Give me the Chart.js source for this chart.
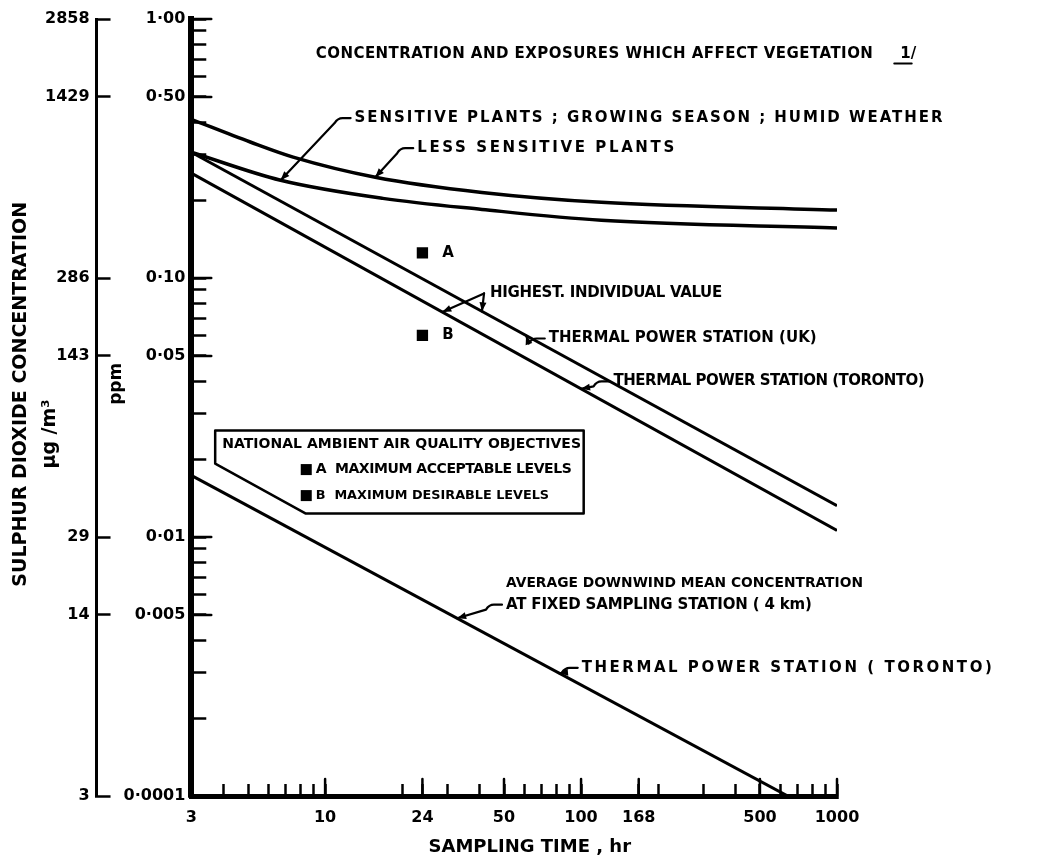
<!DOCTYPE html>
<html><head><meta charset="utf-8">
<script src="https://cdn.jsdelivr.net/npm/chart.js@4"></script>
<style>html,body{margin:0;padding:0;background:#fff}#wrap{width:1048px;height:858px}</style>
</head><body><div id="wrap"><canvas id="c" width="1048" height="858"></canvas></div>
<script>
// ---------------- data ----------------
const lessSensitiveHours = [3, 5.1, 7.5, 15.7, 41, 120, 1000];
const lessSensitivePpm   = [0.41, 0.335, 0.293, 0.245, 0.214, 0.196, 0.183];
const sensitiveHours = [3, 6.7, 16.8, 41, 120, 1000];
const sensitivePpm   = [0.306, 0.2385, 0.203, 0.184, 0.167, 0.156];
const ukHours = [3, 1000];
const ukPpm   = [0.306, 0.0132];
const torontoHighHours = [3, 1000];
const torontoHighPpm   = [0.254, 0.0106];
const torontoMeanHours = [3, 1000];
const torontoMeanPpm   = [0.0173, 0.00079];
const objectiveHours  = [24, 24];
const objectivePpm    = [0.125, 0.06];
const objectiveLabels = ['A', 'B'];

const xLabelValues = [3, 10, 24, 50, 100, 168, 500, 1000];
const xLabelTexts  = ['3', '10', '24', '50', '100', '168', '500', '1000'];
const xMinorValues = [4, 5, 6, 7, 8, 9, 20, 30, 40, 60, 70, 80, 90, 200, 300, 400, 600, 700, 800, 900];
const ppmLabelValues = [1, 0.5, 0.1, 0.05, 0.01, 0.005, 0.001];
const ppmLabelTexts  = ['1·00', '0·50', '0·10', '0·05', '0·01', '0·005', '0·0001'];
const ppmMinorValues = [0.9, 0.8, 0.7, 0.6, 0.4, 0.3, 0.2, 0.09, 0.08, 0.07, 0.06, 0.04, 0.03, 0.02,
                        0.009, 0.008, 0.007, 0.006, 0.004, 0.003, 0.002];
const ugLabelTexts = ['2858', '1429', '286', '143', '29', '14', '3'];
const UG_PER_PPM = 2858;

// ---------------- helpers ----------------
const pts = (xs, ys) => xs.map((v, i) => ({x: v, y: ys[i]}));
const series = {
  less: [lessSensitiveHours, lessSensitivePpm],
  sensitive: [sensitiveHours, sensitivePpm],
  uk: [ukHours, ukPpm],
  torontoHigh: [torontoHighHours, torontoHighPpm],
  torontoMean: [torontoMeanHours, torontoMeanPpm]
};
function seriesAt(name, h) {
  const [xs, ys] = series[name];
  for (let i = 0; i < xs.length - 1; i++) {
    if (h >= xs[i] && h <= xs[i + 1]) {
      const t = (Math.log10(h) - Math.log10(xs[i])) / (Math.log10(xs[i + 1]) - Math.log10(xs[i]));
      return Math.pow(10, Math.log10(ys[i]) + t * (Math.log10(ys[i + 1]) - Math.log10(ys[i])));
    }
  }
  return ys[ys.length - 1];
}
function labelFor(v, vals, texts) {
  const i = vals.findIndex(a => Math.abs(Math.log10(a) - Math.log10(v)) < 1e-6);
  return i >= 0 ? texts[i] : '';
}
const NB = '\u00a0';
const TXT = '#000';
const FONT = 'DejaVu Sans';

// ---------------- annotations (positions in data units) ----------------
const notes = [
  {text: 'CONCENTRATION AND EXPOSURES WHICH AFFECT VEGETATION', x: 9.19, y: 0.73, w: 557},
  {text: '1/', x: 1767, y: 0.73, underline: true},
  {text: 'SENSITIVE PLANTS ; GROWING SEASON ; HUMID WEATHER', x: 13.04, y: 0.4143, w: 588, leader: [['sensitive', 6.7]]},
  {text: 'LESS SENSITIVE PLANTS', x: 22.9, y: 0.3172, w: 257, leader: [['less', 15.7]]},
  {text: 'HIGHEST. INDIVIDUAL VALUE', x: 44.1, y: 0.0872, w: 232, fork: [['uk', 41], ['torontoHigh', 28.7]]},
  {text: 'A', x: 28.7, y: 0.125},
  {text: 'B', x: 28.7, y: 0.06},
  {text: 'THERMAL POWER STATION (UK)', x: 74.8, y: 0.0584, w: 268, leader: [['uk', 61]]},
  {text: 'THERMAL POWER STATION (TORONTO)', x: 134, y: 0.0399, w: 311, leader: [['torontoHigh', 100]]},
  {text: 'AVERAGE DOWNWIND MEAN CONCENTRATION', x: 50.9, y: 0.0066, w: 358},
  {text: 'AT FIXED SAMPLING STATION ( 4 km)', x: 50.9, y: 0.00548, w: 306, leader: [['torontoMean', 32.8]]},
  {text: 'THERMAL POWER STATION ( TORONTO)', x: 100.6, y: 0.003126, w: 410, leader: [['torontoMean', 82]]},
  // legend box texts
  {text: 'NATIONAL AMBIENT AIR QUALITY OBJECTIVES', x: 3.96, y: 0.02275, w: 359, size: 14},
  {text: 'A  MAXIMUM ACCEPTABLE LEVELS', x: 9.19, y: 0.01821, w: 256, size: 14, square: 8.44},
  {text: 'B  MAXIMUM DESIRABLE LEVELS', x: 9.19, y: 0.01445, w: 234, size: 14, square: 8.44}
];
const legendBox = [[3.72, 0.02577], [102.4, 0.02577], [102.4, 0.01231], [8.41, 0.01231], [3.72, 0.01921]];

function arrowHead(ctx, fx, fy, tx, ty) {
  const a = Math.atan2(ty - fy, tx - fx), L = 9, W = 3.5;
  ctx.beginPath();
  ctx.moveTo(tx, ty);
  ctx.lineTo(tx - L * Math.cos(a) + W * Math.sin(a), ty - L * Math.sin(a) - W * Math.cos(a));
  ctx.lineTo(tx - L * Math.cos(a) - W * Math.sin(a), ty - L * Math.sin(a) + W * Math.cos(a));
  ctx.closePath();
  ctx.fill();
}

const notesPlugin = {
  id: 'notes',
  afterDraw(chart) {
    const {ctx} = chart;
    const xs = chart.scales.x, ys = chart.scales.y;
    const px = v => xs.getPixelForValue(v), py = v => ys.getPixelForValue(v);
    ctx.save();
    ctx.fillStyle = TXT; ctx.strokeStyle = TXT;
    ctx.lineCap = 'round'; ctx.lineJoin = 'round';

    // longer major tick marks
    ctx.lineWidth = 2.5;
    xLabelValues.slice(1).forEach(v => {
      ctx.beginPath(); ctx.moveTo(px(v), xs.top); ctx.lineTo(px(v), xs.top - 17); ctx.stroke();
    });
    ppmLabelValues.slice(0, -1).forEach(v => {
      ctx.beginPath(); ctx.moveTo(ys.right, py(v)); ctx.lineTo(ys.right + 20, py(v)); ctx.stroke();
    });

    // legend box
    ctx.lineWidth = 2.5;
    ctx.beginPath();
    legendBox.forEach(([a, b], i) => i ? ctx.lineTo(px(a), py(b)) : ctx.moveTo(px(a), py(b)));
    ctx.closePath();
    ctx.stroke();

    notes.forEach(n => {
      const size = n.size || 15;
      ctx.font = 'bold ' + size + 'px "' + FONT + '"';
      ctx.letterSpacing = '0px';
      let ls = 0;
      if (n.w) {
        const w0 = ctx.measureText(n.text).width;
        ls = (n.w - w0) / (n.text.length - 1);
        if (ls < -0.8) {
          const s2 = size * n.w / w0;
          ctx.font = 'bold ' + s2.toFixed(1) + 'px "' + FONT + '"';
          ls = 0;
        }
      }
      ctx.letterSpacing = ls.toFixed(2) + 'px';
      ctx.textAlign = 'left'; ctx.textBaseline = 'middle';
      const X = px(n.x), Y = py(n.y);
      ctx.fillText(n.text, X, Y);
      if (n.underline) {
        const w1 = ctx.measureText('1').width;
        ctx.lineWidth = 2;
        ctx.beginPath(); ctx.moveTo(X - 6, Y + 9); ctx.lineTo(X + w1 + 1, Y + 9); ctx.stroke();
      }
      if (n.square) {
        const S = 11, cx = px(n.square);
        ctx.fillRect(cx - S / 2, Y - S / 2, S, S);
      }
      ctx.lineWidth = 2.2;
      if (n.leader) {
        n.leader.forEach(([name, h]) => {
          const tx = px(h), ty = py(seriesAt(name, h));
          const sx = X - 4, sy = Y;
          ctx.beginPath();
          ctx.moveTo(sx, sy);
          ctx.lineTo(sx - 8, sy);
          ctx.quadraticCurveTo(sx - 13, sy, sx - 16, sy + 5);
          ctx.lineTo(tx, ty);
          ctx.stroke();
          arrowHead(ctx, sx - 16, sy + 5, tx, ty);
        });
      }
      if (n.fork) {
        n.fork.forEach(([name, h]) => {
          const tx = px(h), ty = py(seriesAt(name, h));
          const sx = X - 6, sy = Y;
          ctx.beginPath(); ctx.moveTo(sx, sy); ctx.lineTo(tx, ty); ctx.stroke();
          arrowHead(ctx, sx, sy, tx, ty);
        });
      }
    });
    ctx.letterSpacing = '0px';
    ctx.restore();
  }
};

const lineStyle = {showLine: true, borderColor: '#000', backgroundColor: '#000', borderWidth: 3.5,
                   pointRadius: 0, fill: false, cubicInterpolationMode: 'monotone'};

const tickFont = {family: FONT, weight: 'bold', size: 16};
const noEdgePadding = s => { s.paddingTop = 0; s.paddingBottom = 0; };

new Chart(document.getElementById('c'), {
  type: 'scatter',
  data: {
    datasets: [
      Object.assign({label: 'Less sensitive plants', data: pts(lessSensitiveHours, lessSensitivePpm)}, lineStyle),
      Object.assign({label: 'Sensitive plants; growing season; humid weather', data: pts(sensitiveHours, sensitivePpm)}, lineStyle),
      Object.assign({label: 'Thermal power station (UK)', data: pts(ukHours, ukPpm)}, lineStyle, {borderWidth: 3}),
      Object.assign({label: 'Thermal power station (Toronto), highest', data: pts(torontoHighHours, torontoHighPpm)}, lineStyle, {borderWidth: 3}),
      Object.assign({label: 'Thermal power station (Toronto), average downwind mean', data: pts(torontoMeanHours, torontoMeanPpm)}, lineStyle, {borderWidth: 3}),
      {label: 'National ambient air quality objectives', data: pts(objectiveHours, objectivePpm),
       showLine: false, pointStyle: 'rect', pointRadius: 8, backgroundColor: '#000', borderColor: '#000', borderWidth: 0}
    ]
  },
  options: {
    responsive: false, animation: false, devicePixelRatio: 1, events: [],
    layout: {padding: {top: 19, right: 211, bottom: 0, left: 0}},
    plugins: {legend: {display: false}, tooltip: {enabled: false}},
    scales: {
      x: {
        type: 'logarithmic', position: 'bottom', min: 3, max: 1000,
        border: {display: true, color: '#000', width: 5},
        grid: {display: true, drawOnChartArea: false, drawTicks: true, tickLength: -12, tickColor: '#000', tickWidth: 2.5},
        afterBuildTicks: s => { s.ticks = xLabelValues.concat(xMinorValues).sort((a, b) => a - b).map(v => ({value: v})); },
        ticks: {autoSkip: false, maxRotation: 0, minRotation: 0, padding: 24, color: TXT, font: tickFont,
                callback: v => labelFor(v, xLabelValues, xLabelTexts)},
        title: {display: true, text: NB.repeat(5) + 'SAMPLING TIME , hr', color: TXT,
                font: {family: FONT, weight: 'bold', size: 18, lineHeight: 1.2}, padding: {top: -15, bottom: 0.2}}
      },
      y: {
        type: 'logarithmic', position: 'left', weight: 0, min: 0.001, max: 1,
        border: {display: true, color: '#000', width: 6},
        grid: {display: true, drawOnChartArea: false, drawTicks: true, tickLength: -15, tickColor: '#000', tickWidth: 2.5},
        afterBuildTicks: s => { s.ticks = ppmLabelValues.concat(ppmMinorValues).sort((a, b) => a - b).map(v => ({value: v})); },
        afterFit: noEdgePadding,
        ticks: {autoSkip: false, padding: 21, color: TXT, font: tickFont,
                callback: v => labelFor(v, ppmLabelValues, ppmLabelTexts)},
        title: {display: true, text: NB.repeat(8) + 'ppm', color: TXT,
                font: {family: FONT, weight: 'bold', size: 17, lineHeight: 1.2}, padding: {top: 10, bottom: -24.4}}
      },
      y2: {
        type: 'logarithmic', position: 'left', weight: 1,
        min: 0.001 * UG_PER_PPM, max: 1 * UG_PER_PPM,
        border: {display: true, color: '#000', width: 3},
        grid: {display: true, drawOnChartArea: false, drawTicks: true, tickLength: -14, tickColor: '#000', tickWidth: 2.5},
        afterBuildTicks: s => { s.ticks = ppmLabelValues.map(v => ({value: v * UG_PER_PPM})); },
        afterFit: noEdgePadding,
        ticks: {autoSkip: false, padding: 21, color: TXT, font: tickFont,
                callback: v => labelFor(v / UG_PER_PPM, ppmLabelValues, ugLabelTexts)},
        title: {display: true, text: [NB.repeat(4) + 'SULPHUR DIOXIDE CONCENTRATION', 'μg /m³' + NB.repeat(8)], color: TXT,
                font: {family: FONT, weight: 'bold', size: 19, lineHeight: 1.5}, padding: {top: 7, bottom: -40}}
      }
    }
  },
  plugins: [notesPlugin]
});
</script>
</body></html>
